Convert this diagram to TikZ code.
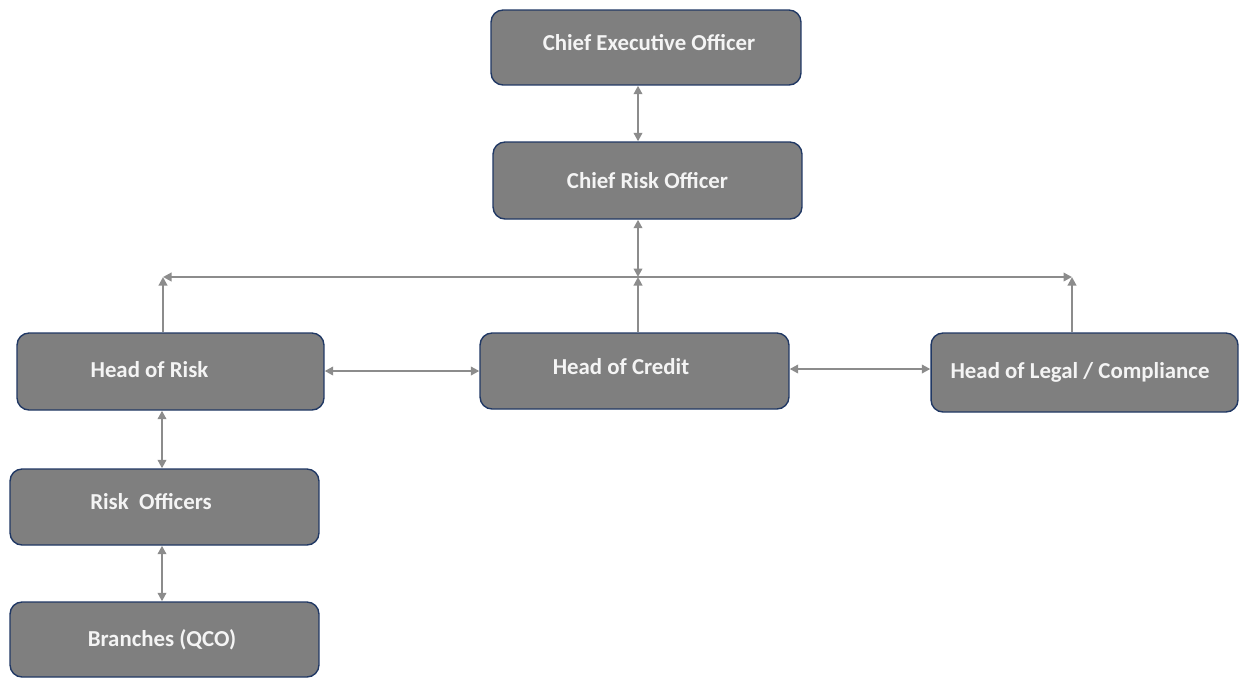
\documentclass[tikz,border=0pt]{standalone}
\usepackage{fontspec}
\setmainfont{Carlito}
\usetikzlibrary{arrows.meta,calc}
\definecolor{boxfill}{HTML}{7F7F7F}
\definecolor{boxline}{HTML}{203864}
\definecolor{conncol}{HTML}{8C8C8C}
\definecolor{txtcol}{HTML}{F4F4F4}
\begin{document}
\begin{tikzpicture}[x=0.02cm,y=-0.02cm,
  box/.style={draw=boxline,line width=0.8pt,fill=boxfill,rounded corners=0.24cm,inner sep=0pt},
  txt/.style={text=txtcol,font=\bfseries\fontsize{13}{15}\selectfont,inner sep=0pt},
  conn/.style={draw=conncol,line width=1.2pt,arrows={Triangle[length=0.17cm,width=0.17cm]-Triangle[length=0.17cm,width=0.17cm]}},
  connone/.style={draw=conncol,line width=1.2pt,arrows={-Triangle[length=0.17cm,width=0.17cm]}}]
\useasboundingbox (0,0) rectangle (1239,677);
\node[box,minimum width=6.2cm,minimum height=1.5cm,label={[txt,xshift=0.06cm,yshift=0.09cm]center:Chief Executive Officer}] (ceo) at (646,47.5) {};
\node[box,minimum width=6.18cm,minimum height=1.54cm,label={[txt]center:Chief Risk Officer}] (cro) at (647.5,180.5) {};
\node[box,minimum width=6.14cm,minimum height=1.54cm,label={[txt,xshift=-0.42cm,yshift=0.03cm]center:Head of Risk}] (hr) at (170.5,371.5) {};
\node[box,minimum width=6.18cm,minimum height=1.52cm,label={[txt,xshift=-0.27cm,yshift=0.08cm]center:Head of Credit}] (hc) at (634.5,371) {};
\node[box,minimum width=6.14cm,minimum height=1.58cm,label={[txt,xshift=-0.09cm]center:Head of Legal / Compliance}] (hl) at (1084.5,372.5) {};
\node[box,minimum width=6.18cm,minimum height=1.52cm,label={[txt,xshift=-0.27cm,yshift=0.1cm]center:Risk\ \ Officers}] (ro) at (164.5,507) {};
\node[box,minimum width=6.18cm,minimum height=1.5cm,label={[txt,xshift=-0.05cm]center:Branches (QCO)}] (br) at (164.5,639.5) {};
\coordinate (xa) at (638,277);
\coordinate (busl) at (163,277);
\coordinate (busr) at (1072,277);
\coordinate (xr) at (162,0);
\draw[conn] (ceo.south -| xa) -- (cro.north -| xa);
\draw[conn] (cro.south -| xa) -- (xa);
\draw[connone] (hc.north -| xa) -- (xa);
\draw[conn] (busl) -- (busr);
\draw[connone] (hr.north -| busl) -- (busl);
\draw[connone] (hl.north -| busr) -- (busr);
\draw[conn] (hr.east) ++(0,-0.5) coordinate (t1) (t1) -- (t1 -| hc.west);
\draw[conn] (hc.east) ++(0,-2) coordinate (t2) (t2) -- (t2 -| hl.west);
\draw[conn] (hr.south -| xr) -- (ro.north -| xr);
\draw[conn] (ro.south -| xr) -- (br.north -| xr);
\end{tikzpicture}
\end{document}
